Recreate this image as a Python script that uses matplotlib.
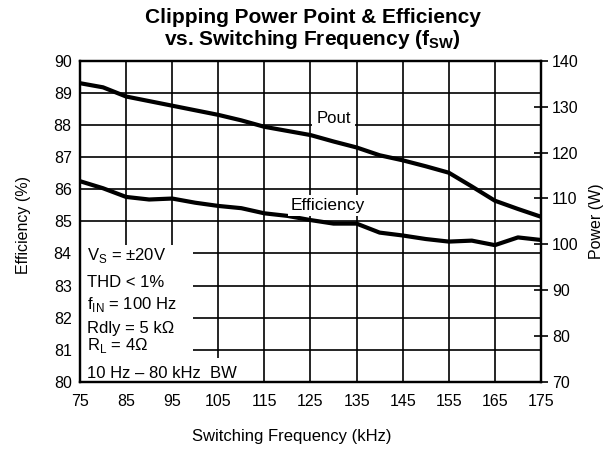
import matplotlib
matplotlib.use("Agg")
import matplotlib.pyplot as plt
from matplotlib.patches import Rectangle

# switching frequency (kHz)
freq = [75, 80, 85, 90, 95, 100, 105, 110, 115, 120, 125,
        130, 135, 140, 145, 150, 155, 160, 165, 170, 175]
# clipping output power (W), right axis
pout = [135.1, 134.2, 132.2, 131.2, 130.2, 129.2, 128.2, 127.0, 125.6, 124.7, 123.8,
        122.4, 121.1, 119.4, 118.3, 117.0, 115.6, 112.6, 109.5, 107.7, 106.0]
# efficiency (%), left axis
eff = [86.25, 86.03, 85.76, 85.68, 85.71, 85.58, 85.48, 85.41, 85.25, 85.17, 85.04,
       84.93, 84.93, 84.65, 84.56, 84.45, 84.37, 84.40, 84.26, 84.50, 84.42]

xticks = [75, 85, 95, 105, 115, 125, 135, 145, 155, 165, 175]
eff_ticks = list(range(80, 91))
pow_ticks = list(range(70, 141, 10))

notes = [
    r"V$_{\mathregular{S}}$ = $\mathregular{\pm}$20V",
    "THD < 1%",
    r"f$_{\mathregular{IN}}$ = 100 Hz",
    "Rdly = 5 k\u03a9",
    "R$_{\\mathregular{L}}$ = 4\u03a9",
    "10 Hz \u2013 80 kHz  BW",
]
note_y = [0.380, 0.295, 0.227, 0.153, 0.100, 0.012]

plt.rcParams['font.family'] = ['Liberation Sans', 'DejaVu Sans']
plt.rcParams['font.size'] = 11

fig = plt.figure(figsize=(6.11, 4.51), dpi=100)
ax = fig.add_axes([0.1309, 0.153, 0.7545, 0.7124])

ax.set_xlim(75, 175)
ax.set_ylim(80, 90)
ax.set_xticks(xticks)
ax.set_yticks(eff_ticks)
ax.grid(True, color='black', linewidth=1.2)
ax.tick_params(length=0, pad=6, labelsize=11.5)
ax.tick_params(axis='x', pad=9)
for s in ax.spines.values():
    s.set_linewidth(1.6)

ax.plot(freq, eff, color='black', linewidth=3, solid_capstyle='butt', zorder=4)

ax2 = ax.twinx()
ax2.set_ylim(70, 140)
ax2.set_yticks(pow_ticks)
ax2.tick_params(direction='inout', length=10, width=1.2, pad=3, labelsize=11.5)
ax2.plot(freq, pout, color='black', linewidth=3, solid_capstyle='butt', zorder=4)
for s in ax2.spines.values():
    s.set_linewidth(1.6)

# white areas behind the condition notes and curve labels
ax.add_patch(Rectangle((75, 80), 24.5, 4.26, facecolor='white', edgecolor='none', zorder=2.5))
ax.add_patch(Rectangle((75, 80), 34.7, 0.74, facecolor='white', edgecolor='none', zorder=2.5))
ax.add_patch(Rectangle((125.3, 87.95), 9.4, 0.7, facecolor='white', edgecolor='none', zorder=2.5))
for txt, y in zip(notes, note_y):
    ax.text(0.0145, y, txt, transform=ax.transAxes, fontsize=12, ha='left', va='baseline', zorder=5)

ax.text(130.0, 88.21, "Pout", fontsize=12, ha='center', va='center', zorder=5)
ax.text(128.7, 85.5, "Efficiency", fontsize=12.5, ha='center', va='center', zorder=5,
        bbox=dict(facecolor='white', edgecolor='none', pad=2))

fig.text(0.477, 0.033, "Switching Frequency (kHz)", ha='center', va='center', fontsize=12)
fig.text(0.038, 0.50, "Efficiency (%)", rotation=90, ha='center', va='center', fontsize=11.5)
fig.text(0.976, 0.51, "Power (W)", rotation=90, ha='center', va='center', fontsize=11.5)

fig.text(0.512, 0.962, "Clipping Power Point & Efficiency",
         weight='bold', fontsize=15, ha='center', va='center')
fig.text(0.512, 0.913, r"vs. Switching Frequency (f$_{\mathregular{SW}}$)",
         weight='bold', fontsize=15, ha='center', va='center')

fig.savefig("out.png", dpi=100)
